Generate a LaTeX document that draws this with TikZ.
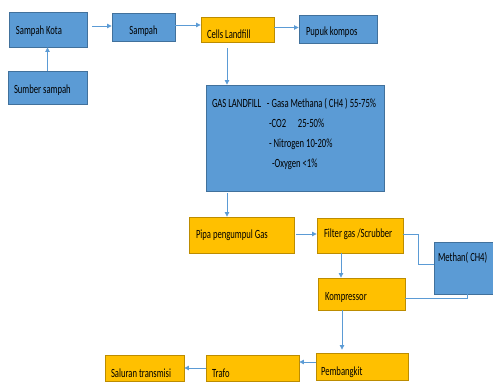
\documentclass[tikz,border=0pt]{standalone}
\usepackage{fontspec}
\setmainfont{Carlito}[FakeStretch=0.69]
\usetikzlibrary{arrows.meta,calc}
\definecolor{bfill}{HTML}{5B9BD5}
\definecolor{bdraw}{HTML}{41719C}
\definecolor{ofill}{HTML}{FFC000}
\definecolor{odraw}{HTML}{BC8C00}
\definecolor{lcol}{HTML}{5B9BD5}
\newcommand{\lt}[2]{\makebox[#1][l]{#2}}
\newcommand{\ct}[2]{\makebox[#1][c]{#2}}
\tikzset{
  boxbase/.style={draw, line width=0.9pt, inner xsep=7pt, inner ysep=0pt, text depth=0pt,
    font=\fontsize{12.5}{19.7}\selectfont},
  bluebox/.style={boxbase, fill=bfill, draw=bdraw},
  orangebox/.style={boxbase, fill=ofill, draw=odraw},
  arr/.style={draw=lcol, line width=0.8pt, -{Triangle[length=4.5pt,width=4.5pt]}},
  lnk/.style={draw=lcol, line width=0.8pt},
}
\begin{document}
\begin{tikzpicture}[x=1pt,y=-1pt]
\clip (0,0) rectangle (493,385);
\fill[white] (0,0) rectangle (493,385);
\coordinate (cx) at (227,0);
\coordinate (fx) at (341,0);
\coordinate (kx) at (342,0);
\coordinate (mx) at (418,0);
\coordinate (m2) at (467,0);
% nodes
\node[bluebox, minimum width=78pt, minimum height=35pt, text height=11pt] (kota) at (48,29.5) {\lt{64pt}{Sampah Kota}};
\node[bluebox, minimum width=79pt, minimum height=33pt, inner xsep=6pt, text height=13pt] (sumber) at (47.5,87.5) {\lt{67pt}{Sumber sampah}};
\node[bluebox, minimum width=63pt, minimum height=28pt, text height=16pt] (sampah) at (143.5,27) {\ct{49pt}{Sampah}};
\node[orangebox, minimum width=73pt, minimum height=25pt, inner xsep=6pt, text height=18pt] (cells) at (237.5,29.5) {\lt{61pt}{Cells Landfill}};
\node[bluebox, minimum width=78pt, minimum height=28pt, text height=14pt] (pupuk) at (338,29) {\lt{64pt}{Pupuk kompos}};
\node[bluebox, minimum width=178pt, minimum height=106pt, inner xsep=6pt, text height=0pt, text depth=60pt] (gas) at (295,138)
  {\parbox[t]{166pt}{\fontsize{12.5}{19.7}\selectfont
   \lt{55pt}{GAS LANDFILL}- Gasa Methana ( CH4 ) 55-75\%\\
   \hspace*{57pt}\lt{29pt}{-CO2}25-50\%\\
   \hspace*{57pt}- Nitrogen 10-20\%\\
   \hspace*{60pt}-Oxygen <1\%}};
\node[orangebox, minimum width=105pt, minimum height=36pt, text height=6pt] (pipa) at (241.5,235) {\lt{91pt}{Pipa pengumpul Gas}};
\node[orangebox, minimum width=86pt, minimum height=35pt, text height=3pt] (filter) at (360,235.5) {\lt{72pt}{Filter gas /Scrubber}};
\node[bluebox, minimum width=62pt, minimum height=52pt, inner xsep=4pt, text height=0pt, text depth=13pt] (methan) at (465,268) {\lt{54pt}{Methan( CH4)}};
\node[orangebox, minimum width=87pt, minimum height=32pt, text height=13pt] (kompressor) at (361.5,294) {\lt{73pt}{Kompressor}};
\node[orangebox, minimum width=92pt, minimum height=27pt, inner xsep=5pt, text height=18pt] (pembangkit) at (362,366.5) {\lt{82pt}{Pembangkit}};
\node[orangebox, minimum width=93pt, minimum height=26pt, inner xsep=6pt, text height=18pt] (trafo) at (252.5,368) {\lt{81pt}{Trafo}};
\node[orangebox, minimum width=79pt, minimum height=26pt, inner xsep=6pt, text height=18pt] (saluran) at (144.5,368) {\lt{67pt}{Saluran transmisi}};
% connectors
\draw[arr] (sumber.north) -- (sumber.north |- kota.south);
\draw[arr, shorten <=5pt] ([yshift=1pt]kota.east |- sampah.west) -- ([yshift=1pt]sampah.west);
\draw[arr] ([yshift=2pt]sampah.east) -- ([yshift=2pt]sampah.east -| cells.west);
\draw[arr] ([yshift=2pt]cells.east) -- ([yshift=2pt]cells.east -| pupuk.west);
\draw[arr, shorten <=6pt] (cells.south -| cx) -- (gas.north -| cx);
\draw[arr, shorten <=2pt] (gas.south -| cx) -- (pipa.north -| cx);
\draw[arr, shorten <=2pt] ([yshift=1pt]pipa.east) -- ([yshift=1pt]pipa.east -| filter.west);
\draw[arr] (filter.south -| fx) -- (kompressor.north -| fx);
\draw[lnk] ([yshift=1pt]filter.east) -- ([yshift=1pt]filter.east -| mx) |- ([yshift=4pt]methan.west);
\draw[lnk] ([yshift=-4pt]kompressor.east) -| (methan.south -| m2);
\draw[arr, shorten >=3pt] (kompressor.south -| kx) -- (pembangkit.north -| kx);
\draw[arr] ([yshift=4.5pt]pembangkit.west) -- ([yshift=4.5pt]pembangkit.west -| trafo.east);
\draw[arr] (trafo.west) -- (trafo.west -| saluran.east);
\end{tikzpicture}
\end{document}
